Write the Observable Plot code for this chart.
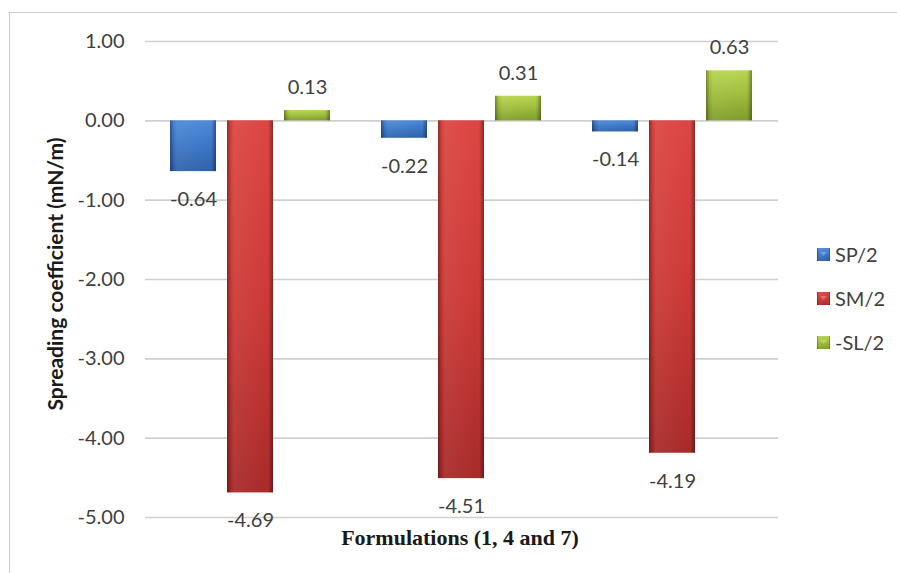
<!DOCTYPE html>
<html>
<head>
<meta charset="utf-8">
<script src="https://cdn.jsdelivr.net/npm/d3@7"></script>
<script src="https://cdn.jsdelivr.net/npm/@observablehq/plot@0.6"></script>
<style>
  html, body { margin: 0; padding: 0; background: #fff; }
  #wrap { position: relative; width: 897px; height: 573px; overflow: hidden; font-family: Lato, "Open Sans", sans-serif; }
  #frame { position: absolute; left: 9px; top: 12px; width: 960px; height: 620px; border: 1.5px solid #cfcfcf; box-sizing: border-box; }
  #chart { position: absolute; left: 0; top: 0; }
  #chart g[aria-label="bars"] { filter: drop-shadow(2px 3px 2px rgba(0,0,0,0.35)); }
  #ytitle { position: absolute; left: 54px; top: 274px; transform: translate(-50%, -50%) rotate(-90deg);
            white-space: nowrap; font: bold 21px Lato, sans-serif; color: #1a1a1a; }
  #xtitle { position: absolute; left: 460px; top: 538px; transform: translate(-50%, -50%);
            white-space: nowrap; font: bold 22px "Liberation Serif", "DejaVu Serif", serif; color: #1a1a1a; }
  #legend { position: absolute; left: 817px; top: 0; font: 20px Lato, sans-serif; color: #404040; }
  #legend .item { position: absolute; left: 0; display: flex; align-items: center; white-space: nowrap; transform: translateY(-50%); }
  #legend svg { margin-right: 5px; }
</style>
</head>
<body>
<svg width="0" height="0" style="position:absolute">
  <defs>
    <linearGradient id="gSP" x1="0" y1="0" x2="0" y2="1">
      <stop offset="0" stop-color="#4d8ad9"/>
      <stop offset="0.5" stop-color="#3b76c6"/>
      <stop offset="1" stop-color="#2f62aa"/>
    </linearGradient>
    <linearGradient id="gSM" x1="0" y1="0" x2="0" y2="1">
      <stop offset="0" stop-color="#dc4542"/>
      <stop offset="0.5" stop-color="#cc3936"/>
      <stop offset="1" stop-color="#a82a29"/>
    </linearGradient>
    <linearGradient id="gSL" x1="0" y1="0" x2="0" y2="1">
      <stop offset="0" stop-color="#b9d550"/>
      <stop offset="0.5" stop-color="#9dbd3c"/>
      <stop offset="1" stop-color="#7f9d2a"/>
    </linearGradient>
    <linearGradient id="gEdge" x1="0" y1="0" x2="1" y2="0">
      <stop offset="0" stop-color="#000" stop-opacity="0.35"/>
      <stop offset="0.08" stop-color="#000" stop-opacity="0.05"/>
      <stop offset="0.15" stop-color="#fff" stop-opacity="0.06"/>
      <stop offset="0.85" stop-color="#fff" stop-opacity="0"/>
      <stop offset="0.92" stop-color="#000" stop-opacity="0.08"/>
      <stop offset="1" stop-color="#000" stop-opacity="0.38"/>
    </linearGradient>
  </defs>
</svg>
<div id="wrap">
  <div id="frame"></div>
  <div id="chart"></div>
  <div id="ytitle">Spreading coefficient (mN/m)</div>
  <div id="xtitle">Formulations (1, 4 and 7)</div>
  <div id="legend"></div>
</div>
<script>
// Spreading coefficients for formulations 1, 4 and 7
const formulations = ["1", "4", "7"];
const seriesNames = ["SP/2", "SM/2", "-SL/2"];
const sp2 = [-0.64, -0.22, -0.14];
const sm2 = [-4.69, -4.51, -4.19];
const sl2 = [0.13, 0.31, 0.63];
const yTicks = [1, 0, -1, -2, -3, -4, -5];
const fills = ["url(#gSP)", "url(#gSM)", "url(#gSL)"];

const valuesBySeries = [sp2, sm2, sl2];
const rows = [];
formulations.forEach((f, i) => {
  seriesNames.forEach((s, j) => {
    rows.push({formulation: f, series: s, value: valuesBySeries[j][i]});
  });
});

const fmt = d => d.toFixed(2);

const chart = Plot.plot({
  width: 897,
  height: 573,
  marginLeft: 144,
  marginRight: 119,
  marginTop: 41,
  marginBottom: 56,
  style: {fontFamily: "Lato, sans-serif", fontSize: "20px", color: "#404040", background: "transparent"},
  fx: {domain: formulations, padding: 0, axis: null},
  x: {domain: seriesNames, paddingInner: 0.19, paddingOuter: 0.414, axis: null},
  y: {domain: [-5, 1], ticks: yTicks, tickFormat: fmt, tickSize: 0, tickPadding: 21, label: null},
  marks: [
    Plot.gridY(yTicks, {stroke: "#cfcfcf", strokeWidth: 1.6, strokeOpacity: 1}),
    ...seriesNames.map((s, j) =>
      Plot.barY(rows.filter(d => d.series === s), {
        fx: "formulation", x: "series", y: "value", fill: fills[j], ariaLabel: "bars"
      })
    ),
    Plot.barY(rows, {fx: "formulation", x: "series", y: "value", fill: "url(#gEdge)", ariaLabel: "bar edges"}),
    Plot.text(rows.filter(d => d.value >= 0), {
      fx: "formulation", x: "series", y: "value", text: d => fmt(d.value),
      dy: -23, fill: "#404040", fontSize: 20
    }),
    Plot.text(rows.filter(d => d.value < 0), {
      fx: "formulation", x: "series", y: "value", text: d => fmt(d.value),
      dy: 28, fill: "#404040", fontSize: 20
    })
  ]
});
document.getElementById("chart").appendChild(chart);

// Legend on the right
const legend = document.getElementById("legend");
const legendRows = [254, 298, 342];
seriesNames.forEach((s, j) => {
  const item = document.createElement("div");
  item.className = "item";
  item.style.top = legendRows[j] + "px";
  item.innerHTML = `<svg width="13" height="13"><rect x="0" y="0" width="13" height="13" fill="${fills[j]}"/>` +
    `<rect x="0" y="0" width="13" height="13" fill="url(#gEdge)"/>` +
    `<path d="M3,4 L10,4 L6.5,8 Z" fill="#fff" fill-opacity="0.25"/></svg><span>${s}</span>`;
  legend.appendChild(item);
});
</script>
</body>
</html>
